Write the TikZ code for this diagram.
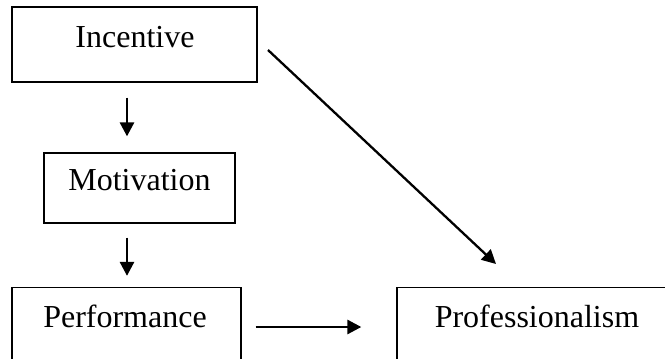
\documentclass[tikz,border=0pt]{standalone}
\usepackage{fontspec}
\setmainfont{Liberation Serif}
\usetikzlibrary{arrows.meta}
\begin{document}
\begin{tikzpicture}[x=1pt,y=-1pt,
  boxnode/.style={draw=black, line width=1.3pt, rectangle, inner sep=0pt},
  txt/.style={anchor=base, inner sep=0pt, font=\fontsize{32}{36}\selectfont},
  arr/.style={line width=2.8pt, -{Triangle[length=14pt,width=14pt]}}]
\clip (0,0) rectangle (665,359);
\useasboundingbox (0,0) rectangle (665,359);
% boxes
\node[boxnode, minimum width=245pt, minimum height=75pt] (inc) at (134.5,44.5) {};
\node[boxnode, minimum width=191pt, minimum height=70pt] (mot) at (139.5,188) {};
\node[boxnode, minimum width=229pt, minimum height=80pt] (perf) at (126.5,327.5) {};
\node[boxnode, minimum width=300pt, minimum height=80pt] (prof) at (547,327.5) {};
% texts
\node[txt] (tinc) at (135,47) {Incentive};
\node[txt] (tmot) at (139.5,190) {Motivation};
\node[txt] (tperf) at (125,327) {Performance};
\node[txt] (tprof) at (537,327) {Professionalism};
% connectors
\coordinate (vx) at (127,0);
\draw[arr, shorten <=15pt, shorten >=16pt] (inc.south -| vx) -- (mot.north -| vx);
\draw[arr, shorten <=14pt, shorten >=11pt] (mot.south -| vx) -- (perf.north -| vx);
\coordinate (hy) at (0,327);
\draw[arr, shorten <=14pt, shorten >=35pt] (perf.east |- hy) -- (prof.west |- hy);
\coordinate (ds) at (268,50);
\coordinate (de) at (496,264);
\draw[arr, line width=2.3pt] (ds) -- (de);
\end{tikzpicture}
\end{document}
